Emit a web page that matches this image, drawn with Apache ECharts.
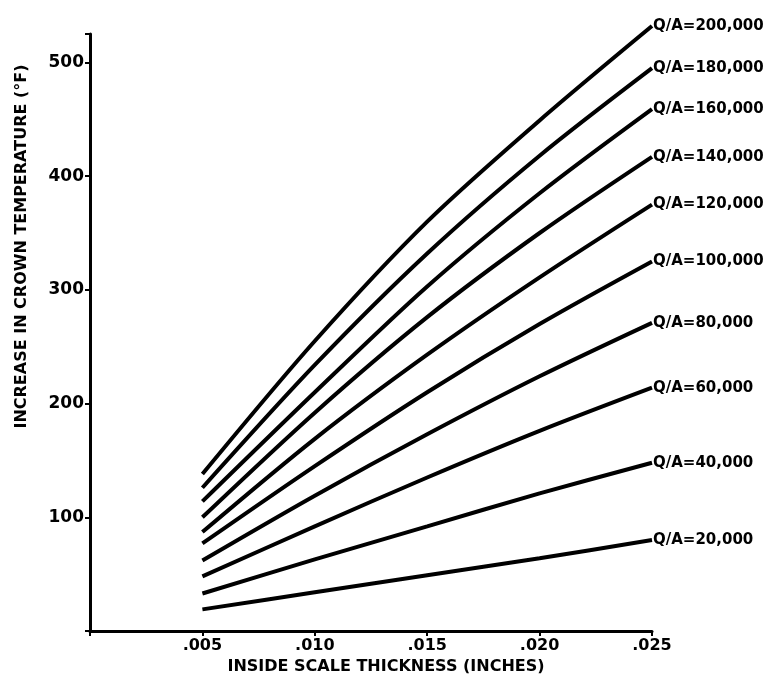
<!DOCTYPE html>
<html>
<head>
<meta charset="utf-8">
<script src="https://cdn.jsdelivr.net/npm/echarts@6/dist/echarts.min.js"></script>
<style>
  html, body { margin: 0; padding: 0; background: #fff; }
  #chart { width: 770px; height: 685px; }
</style>
</head>
<body>
<div id="chart"></div>
<script>
// scale thickness (inches)
const thickness = [0.005, 0.010, 0.015, 0.020, 0.025];

// increase in crown temperature (F) for each Q/A
const qa200 = [138, 255, 360, 449, 532];
const qa180 = [126, 234, 332, 418, 495];
const qa160 = [114, 210, 303, 385, 459];
const qa140 = [100, 192, 276, 350, 417];
const qa120 = [87, 169, 243, 311, 375];
const qa100 = [77, 145, 210, 270, 325];
const qa80 = [62, 119, 173, 224, 271];
const qa60 = [48, 92, 135, 176, 214];
const qa40 = [33, 63, 92, 121, 148];
const qa20 = [19, 34, 49, 64, 80];

const seriesNames = ['Q/A=200,000', 'Q/A=180,000', 'Q/A=160,000', 'Q/A=140,000', 'Q/A=120,000',
    'Q/A=100,000', 'Q/A=80,000', 'Q/A=60,000', 'Q/A=40,000', 'Q/A=20,000'];
const seriesData = [qa200, qa180, qa160, qa140, qa120, qa100, qa80, qa60, qa40, qa20];

const chart = echarts.init(document.getElementById('chart'));
const font = '"DejaVu Sans", sans-serif';

const options = {
    animation: false,
    grid: {
        left: 90,
        right: 118,
        top: 34,
        bottom: 54
    },
    xAxis: {
        type: 'value',
        min: 0,
        max: 0.025,
        interval: 0.005,
        name: 'INSIDE SCALE THICKNESS (INCHES)',
        nameLocation: 'middle',
        nameGap: 24,
        nameTextStyle: {
            color: '#000',
            fontFamily: font,
            fontWeight: 'bold',
            fontSize: 16,
            padding: [0, 0, 0, 30]
        },
        axisLine: { lineStyle: { color: '#000', width: 3 } },
        axisTick: { show: true, length: 5, lineStyle: { color: '#000', width: 2 } },
        splitLine: { show: false },
        axisLabel: {
            color: '#000',
            fontFamily: font,
            fontWeight: 'bold',
            fontSize: 16,
            margin: 7,
            formatter: function (v) {
                return v === 0 ? '' : v.toFixed(3).replace(/^0/, '');
            }
        }
    },
    yAxis: {
        type: 'value',
        min: 0,
        max: 525,
        interval: 100,
        name: 'INCREASE IN CROWN TEMPERATURE (°F)',
        nameLocation: 'middle',
        nameGap: 60,
        nameTextStyle: {
            color: '#000',
            fontFamily: font,
            fontWeight: 'bold',
            fontSize: 16,
            // push the title up toward the top of the axis
            padding: [0, 0, 0, 172]
        },
        axisLine: { show: true, lineStyle: { color: '#000', width: 3 } },
        axisTick: { show: true, length: 5, lineStyle: { color: '#000', width: 2 } },
        splitLine: { show: false },
        axisLabel: {
            color: '#000',
            fontFamily: font,
            fontWeight: 'bold',
            fontSize: 17,
            margin: 6,
            formatter: function (v) {
                return (v === 0 || v % 100 !== 0) ? '' : String(v);
            }
        }
    },
    series: []
};

for (let i = 0; i < seriesData.length; i++) {
    options.series.push({
        name: seriesNames[i],
        type: 'line',
        smooth: 0.3,
        clip: false,
        showSymbol: false,
        lineStyle: { color: '#000', width: 4 },
        data: thickness.map((t, j) => [t, seriesData[i][j]]),
        endLabel: {
            show: true,
            formatter: '{a}',
            color: '#000',
            fontFamily: font,
            fontWeight: 'bold',
            fontSize: 15,
            distance: 1
        }
    });
}

chart.setOption(options, true);
</script>
</body>
</html>
